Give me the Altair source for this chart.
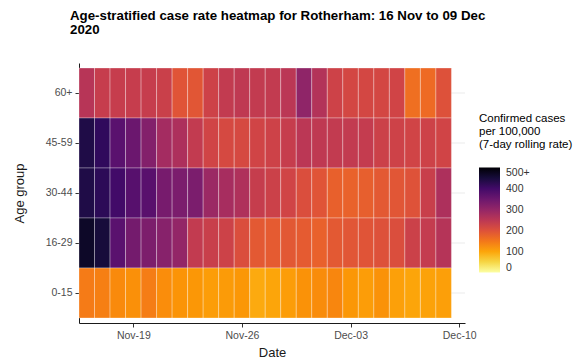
import altair as alt
import pandas as pd

dates = [
    "2020-11-16", "2020-11-17", "2020-11-18", "2020-11-19", "2020-11-20", "2020-11-21",
    "2020-11-22", "2020-11-23", "2020-11-24", "2020-11-25", "2020-11-26", "2020-11-27",
    "2020-11-28", "2020-11-29", "2020-11-30", "2020-12-01", "2020-12-02", "2020-12-03",
    "2020-12-04", "2020-12-05", "2020-12-06", "2020-12-07", "2020-12-08", "2020-12-09",
]
age_groups = ["60+", "45-59", "30-44", "16-29", "0-15"]

rate_60_plus = [255, 235, 235, 235, 235, 230, 195, 192, 225, 240, 245, 240,
                240, 250, 305, 260, 225, 215, 215, 215, 220, 160, 165, 200]
rate_45_59 = [440, 420, 370, 350, 320, 280, 268, 240, 220, 212, 212, 220,
              225, 235, 250, 245, 240, 240, 238, 228, 225, 220, 225, 220]
rate_30_44 = [440, 425, 400, 375, 372, 335, 330, 330, 290, 275, 265, 236,
              228, 220, 205, 195, 178, 175, 180, 188, 193, 198, 232, 268]
rate_16_29 = [465, 450, 370, 338, 328, 315, 300, 240, 232, 226, 205, 188,
              185, 190, 185, 177, 188, 193, 195, 200, 205, 228, 238, 258]
rate_0_15 = [145, 140, 128, 122, 143, 125, 118, 115, 108, 110, 115, 95,
             100, 108, 120, 126, 132, 115, 108, 120, 105, 100, 103, 106]

series = {
    "60+": rate_60_plus,
    "45-59": rate_45_59,
    "30-44": rate_30_44,
    "16-29": rate_16_29,
    "0-15": rate_0_15,
}

rows = []
for age in age_groups:
    for d, v in zip(dates, series[age]):
        rows.append({"date": d, "age": age, "rate": v})
df = pd.DataFrame(rows)
grid_df = pd.DataFrame({"age": age_groups})

FONT = "Liberation Sans"

y_scale = alt.Scale(domain=age_groups, paddingInner=0, paddingOuter=0.1)

grid = alt.Chart(grid_df).mark_rule(color="#ebebeb", strokeWidth=1).encode(
    y=alt.Y("age:N", sort=age_groups, scale=y_scale,
            axis=alt.Axis(title="Age group", grid=False, labelPadding=3, titlePadding=19)),
    x=alt.value(0),
    x2=alt.value(386),
)

heat = alt.Chart(df).transform_calculate(
    start="time(toDate(datum.date)) - 43200000",
    end="time(toDate(datum.date)) + 43200000",
).mark_rect(stroke="white", strokeOpacity=0.3, strokeWidth=1).encode(
    x=alt.X(
        "start:T",
        scale=alt.Scale(
            type="utc",
            domain=[
                alt.DateTime(year=2020, month=11, date=15, hours=12, utc=True),
                alt.DateTime(year=2020, month=12, date=10, hours=9, utc=True),
            ],
        ),
        axis=alt.Axis(
            title="Date",
            format="%b-%d",
            values=[
                alt.DateTime(year=2020, month=11, date=19, utc=True),
                alt.DateTime(year=2020, month=11, date=26, utc=True),
                alt.DateTime(year=2020, month=12, date=3, utc=True),
                alt.DateTime(year=2020, month=12, date=10, utc=True),
            ],
            grid=False,
            labelPadding=3,
            titlePadding=6,
        ),
    ),
    x2="end:T",
    y=alt.Y("age:N", sort=age_groups, scale=y_scale),
    color=alt.Color(
        "rate:Q",
        scale=alt.Scale(scheme="inferno", reverse=True, domain=[0, 500], clamp=True),
        legend=alt.Legend(
            orient="none",
            legendX=400,
            legendY=50,
            direction="vertical",
            title=["Confirmed cases", "per 100,000", "(7-day rolling rate)"],
            titleFontSize=11.5,
            titleFontWeight="normal",
            titleLineHeight=13,
            titleColor="black",
            titleFont=FONT,
            titlePadding=17,
            gradientLength=105,
            gradientThickness=21,
            gradientStrokeWidth=0,
            values=[0, 100, 200, 300, 400, 500],
            labelExpr="datum.value >= 500 ? '500+' : datum.label",
            labelFontSize=10.5,
            labelColor="#333333",
            labelFont=FONT,
            labelOffset=6,
        ),
    ),
)

chart = alt.layer(grid, heat).properties(
    width=386,
    height=260,
    padding={"left": 71, "top": 55, "right": 112, "bottom": 40},
    autosize=alt.AutoSizeParams(type="none"),
    title=alt.TitleParams(
        text=["Age-stratified case rate heatmap for Rotherham: 16 Nov to 09 Dec", "2020"],
        anchor="start",
        frame="group",
        dx=-9,
        offset=27,
        fontSize=13.3,
        font=FONT,
        fontWeight="bold",
        color="black",
        lineHeight=14,
    ),
).configure_view(
    strokeWidth=0
).configure_axis(
    labelFont=FONT,
    titleFont=FONT,
    labelFontSize=10.5,
    titleFontSize=13,
    titleFontWeight="normal",
    labelColor="#4d4d4d",
    titleColor="#1a1a1a",
    domainColor="#1a1a1a",
    domainWidth=1,
    tickColor="#333333",
    tickSize=4,
)

chart.save("out.html", embed_options={"renderer": "svg", "actions": False})
